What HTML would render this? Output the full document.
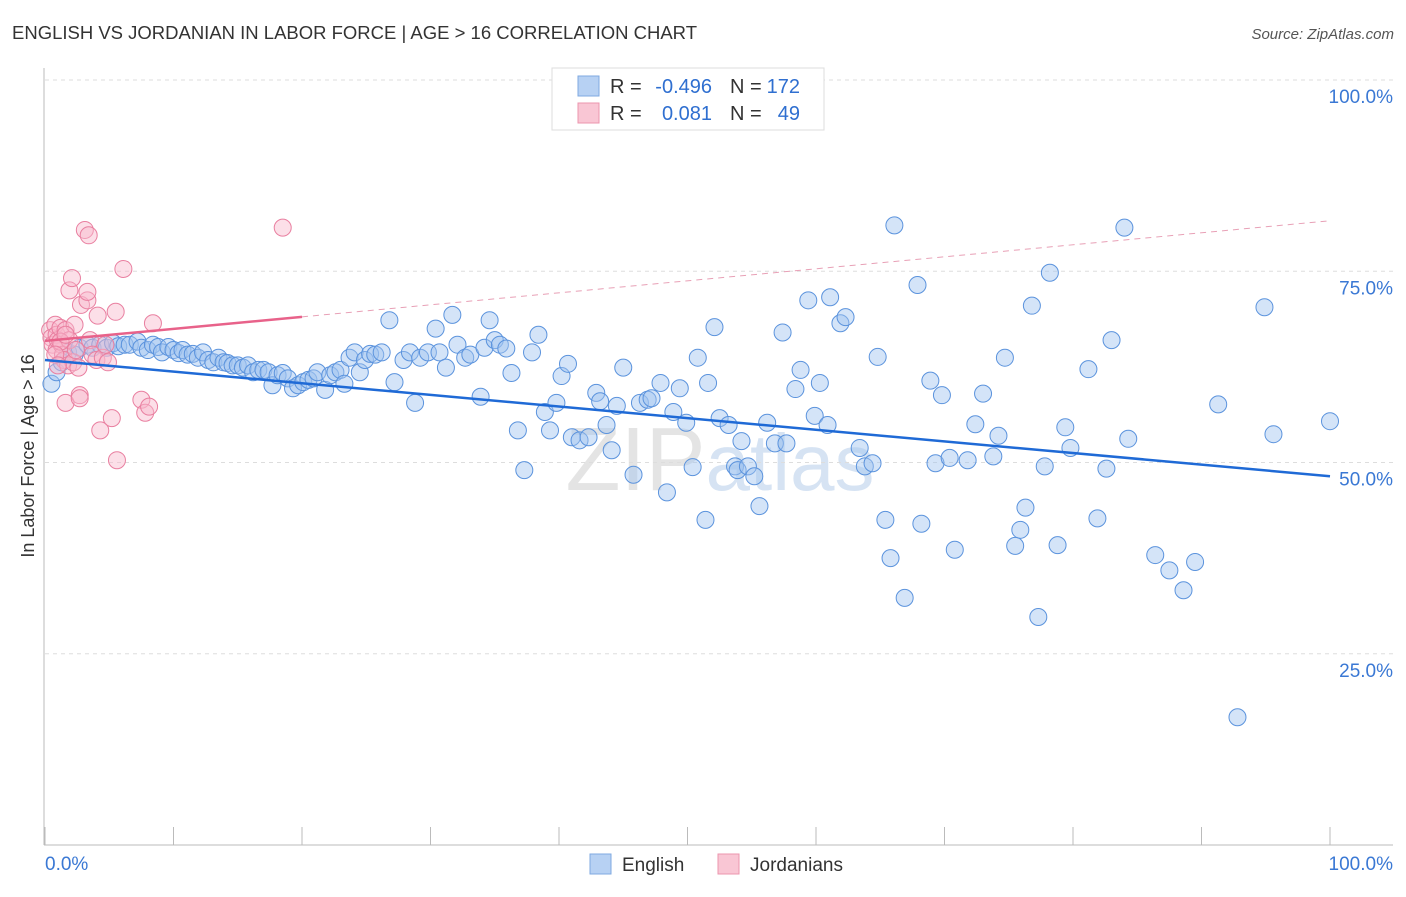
<!DOCTYPE html>
<html><head><meta charset="utf-8"><style>
body{margin:0;background:#fff;font-family:"Liberation Sans",sans-serif}
svg text{font-family:"Liberation Sans",sans-serif}
</style></head><body>
<svg id="c" width="1406" height="892">
<text x="12" y="39" font-size="18" fill="#333" textLength="685" lengthAdjust="spacingAndGlyphs">ENGLISH VS JORDANIAN IN LABOR FORCE | AGE &gt; 16 CORRELATION CHART</text>
<text x="1394" y="39" font-size="15" fill="#555" font-style="italic" text-anchor="end">Source: ZipAtlas.com</text>
<text x="720" y="490" font-size="90" fill="#e4e4e4" text-anchor="middle" font-family="Liberation Serif">ZIP<tspan fill="#d6e3f3" font-family="Liberation Sans" font-size="80">atlas</tspan></text>
<g id="grid"></g><g id="axes"></g><g id="pts"></g><g id="lines"></g>
<text transform="translate(34,456) rotate(-90)" font-size="18" fill="#333" text-anchor="middle">In Labor Force | Age &gt; 16</text>
<g>
<rect x="552" y="68" width="272" height="62" fill="#fff" stroke="#ddd"/>
<rect x="578" y="76" width="21" height="20" fill="#b7d1f3" stroke="#7fa9e0"/>
<rect x="578" y="103" width="21" height="20" fill="#f9c6d4" stroke="#ec95ae"/>
<text x="610" y="93" font-size="20" fill="#333">R =</text>
<text x="712" y="93" font-size="20" fill="#2f6fd0" text-anchor="end">-0.496</text>
<text x="730" y="93" font-size="20" fill="#333">N =</text>
<text x="800" y="93" font-size="20" fill="#2f6fd0" text-anchor="end">172</text>
<text x="610" y="120" font-size="20" fill="#333">R =</text>
<text x="712" y="120" font-size="20" fill="#2f6fd0" text-anchor="end">0.081</text>
<text x="730" y="120" font-size="20" fill="#333">N =</text>
<text x="800" y="120" font-size="20" fill="#2f6fd0" text-anchor="end">49</text>
</g>
<g>
<rect x="590" y="854" width="21" height="20" fill="#b7d1f3" stroke="#7fa9e0"/>
<text x="622" y="871" font-size="19" fill="#333">English</text>
<rect x="718" y="854" width="21" height="20" fill="#f9c6d4" stroke="#ec95ae"/>
<text x="750" y="871" font-size="19" fill="#333">Jordanians</text>
</g>
</svg>
<script>
const engX=[0.5,0.9,1.3,1.8,2.3,2.7,3.3,3.7,4.3,4.8,5.3,5.7,6.2,6.6,7.2,7.5,8.0,8.4,8.8,9.1,9.6,10.0,10.4,10.7,11.1,11.5,11.9,12.3,12.7,13.1,13.5,13.9,14.2,14.6,15.0,15.4,15.8,16.2,16.6,17.0,17.4,17.7,18.1,18.5,18.9,19.3,19.7,20.1,20.5,20.9,21.2,21.8,22.2,22.6,23.0,23.3,23.7,24.1,24.5,24.9,25.3,25.7,26.2,26.8,27.2,27.9,28.4,28.8,29.2,29.8,30.4,30.7,31.2,31.7,32.1,32.7,33.1,33.9,34.2,34.6,35.0,35.4,35.9,36.3,36.8,37.3,37.9,38.4,38.9,39.3,39.8,40.2,40.7,41.0,41.6,42.3,42.9,43.2,43.7,44.1,44.5,45.0,45.8,46.3,46.9,47.2,47.9,48.4,48.9,49.4,49.9,50.4,50.8,51.4,51.6,52.1,52.5,53.2,53.7,53.9,54.2,54.7,55.2,55.6,56.2,56.8,57.4,57.7,58.4,58.8,59.4,59.9,60.3,60.9,61.1,61.9,62.3,63.4,63.8,64.4,64.8,65.4,65.8,66.1,66.9,67.9,68.2,68.9,69.3,69.8,70.4,70.8,71.8,72.4,73.0,73.8,74.2,74.7,75.5,75.9,76.3,76.8,77.3,77.8,78.2,78.8,79.4,79.8,81.2,81.9,82.6,83.0,84.0,84.3,86.4,87.5,88.6,89.5,91.3,92.8,94.9,95.6,100];
const engY=[60.3,61.8,63.1,64.4,64.1,65.0,65.4,65.0,65.4,65.0,65.6,65.2,65.4,65.4,65.8,65.0,64.7,65.4,65.1,64.4,65.1,64.7,64.3,64.7,64.1,64.2,63.7,64.4,63.4,63.1,63.7,63.1,63.0,62.7,62.7,62.4,62.7,61.8,62.1,62.1,61.8,60.1,61.4,61.7,61.0,59.7,60.1,60.5,60.8,61.0,61.8,59.5,61.4,61.8,62.1,60.3,63.7,64.4,61.8,63.4,64.2,64.1,64.4,68.6,60.5,63.4,64.4,57.8,63.7,64.4,67.5,64.4,62.4,69.3,65.4,63.7,64.1,58.6,65.0,68.6,66.0,65.4,64.9,61.7,54.2,49.0,64.4,66.7,56.6,54.2,57.8,61.3,62.9,53.3,52.9,53.3,59.1,58.0,54.9,51.6,57.4,62.4,48.4,57.8,58.2,58.4,60.4,46.1,56.6,59.7,55.2,49.4,63.7,42.5,60.4,67.7,55.8,54.9,49.5,49.0,52.8,49.5,48.2,44.3,55.2,52.5,67.0,52.5,59.6,62.1,71.2,56.1,60.4,54.9,71.6,68.2,69.0,51.9,49.5,49.9,63.8,42.5,37.5,81.0,32.3,73.2,42.0,60.7,49.9,58.8,50.6,38.6,50.3,55.0,59.0,50.8,53.5,63.7,39.1,41.2,44.1,70.5,29.8,49.5,74.8,39.2,54.6,51.9,62.2,42.7,49.2,66.0,80.7,53.1,37.9,35.9,33.3,37.0,57.6,16.7,70.3,53.7,55.4];
const jorX=[0.4,0.5,0.6,0.8,0.9,0.9,1.0,1.2,1.3,1.4,1.5,1.6,1.6,1.8,1.9,1.9,2.1,2.2,2.3,2.4,2.6,2.7,2.7,2.8,3.1,3.3,3.3,3.4,3.5,3.7,4.0,4.1,4.3,4.5,4.7,4.9,5.2,5.5,5.6,6.1,7.5,7.8,8.1,8.4,18.5,1.2,0.8,1.6,1.0];
const jorY=[67.3,66.3,65.4,68.0,64.7,66.7,66.0,67.6,65.4,64.1,63.4,57.8,67.3,62.7,72.5,66.0,74.1,63.1,68.0,64.7,62.4,58.8,58.4,70.6,80.4,71.2,72.3,79.7,66.0,64.1,63.4,69.2,54.2,63.7,65.4,63.1,55.8,69.7,50.3,75.3,58.2,56.5,57.3,68.2,80.7,65.8,64.1,66.7,62.7];
const yTicks=[25,50,75,100];
const xTickVals=[0,10,20,30,40,50,60,70,80,90,100];
const blueTrend=[63.4,48.2];
const pinkTrend=[65.9,81.6];
const NS='http://www.w3.org/2000/svg';
const X=v=>45+v*12.85, Y=v=>845-v*7.65;
function mk(tag,attrs,parent){const e=document.createElementNS(NS,tag);for(const k in attrs)e.setAttribute(k,attrs[k]);document.getElementById(parent).appendChild(e);return e;}
yTicks.forEach(t=>{
 const g=mk('line',{x1:45,x2:1393,y1:Y(t),y2:Y(t),stroke:'#ddd','stroke-dasharray':'4,4'},'grid');
 
 
 const l=mk('text',{x:1393,y:Y(t)+23,'font-size':19,fill:'#3a78d4','text-anchor':'end'},'axes');
 l.textContent=t.toFixed(1)+'%';
 
 
});
let a=mk('line',{x1:44,x2:44,y1:68,y2:845,stroke:'#bbb'},'axes');


a=mk('line',{x1:44,x2:1393,y1:845,y2:845,stroke:'#bbb'},'axes');


xTickVals.forEach(t=>{
 const k=mk('line',{x1:X(t),x2:X(t),y1:827,y2:845,stroke:'#bbb'},'axes');
 
 
});
[[0,'start'],[100,'end']].forEach(([t,anc])=>{
 const l=mk('text',{x:t===0?45:1393,y:870,'font-size':19,fill:'#3a78d4','text-anchor':anc},'axes');
 l.textContent=t.toFixed(1)+'%';
 
 
});
engX.forEach((x,i)=>{
 const c=mk('circle',{cx:X(x),cy:Y(engY[i]),r:8.5,fill:'rgba(160,196,240,0.45)',stroke:'#5b93dd','stroke-width':1},'pts');
 
 
});
jorX.forEach((x,i)=>{
 const c=mk('circle',{cx:X(x),cy:Y(jorY[i]),r:8.5,fill:'rgba(248,184,204,0.45)',stroke:'#e97fa0','stroke-width':1},'pts');
 
 
});
let ln=mk('line',{x1:X(0),y1:Y(blueTrend[0]),x2:X(100),y2:Y(blueTrend[1]),stroke:'#1f6ad6','stroke-width':2.5},'lines');


const pAt=x=>pinkTrend[0]+(pinkTrend[1]-pinkTrend[0])*x/100;
ln=mk('line',{x1:X(0),y1:Y(pAt(0)),x2:X(20),y2:Y(pAt(20)),stroke:'#e8628a','stroke-width':2.5},'lines');


ln=mk('line',{x1:X(20),y1:Y(pAt(20)),x2:X(100),y2:Y(pAt(100)),stroke:'#e8a0b6','stroke-width':1,'stroke-dasharray':'6,5'},'lines');


</script>
</body></html>
